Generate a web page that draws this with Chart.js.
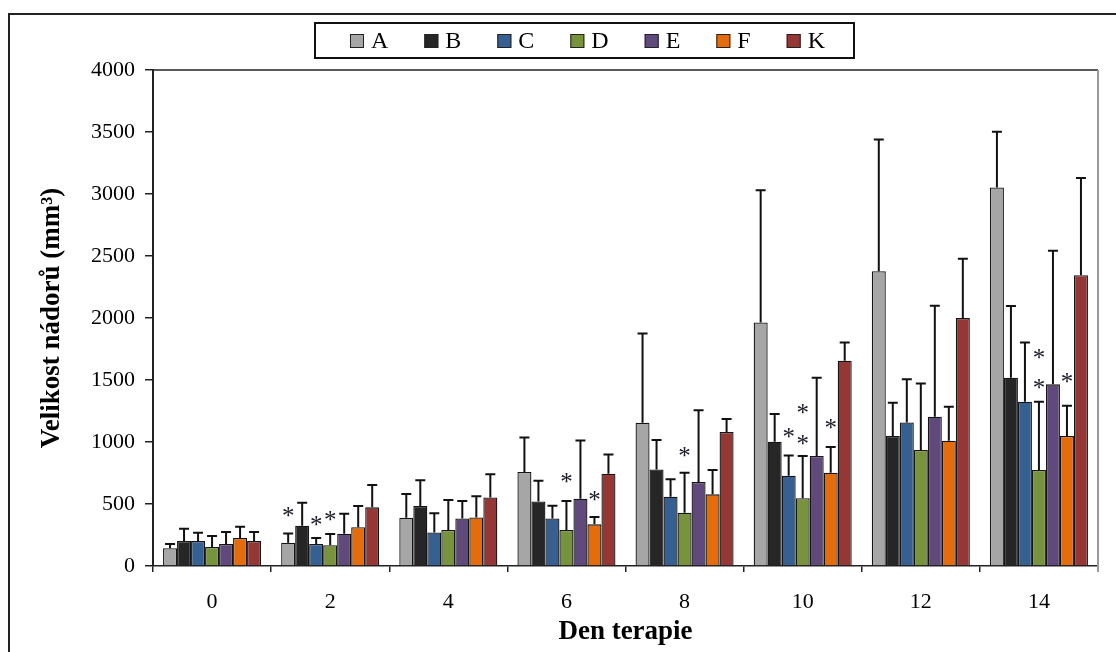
<!DOCTYPE html>
<html>
<head>
<meta charset="utf-8">
<title>Velikost nádorů</title>
<script src="https://cdn.jsdelivr.net/npm/chart.js"></script>
<style>
	html, body { margin: 0; padding: 0; background: #fff; }
	#wrap { position: relative; width: 1116px; height: 652px; }
</style>
</head>
<body>
<div id="wrap"><canvas id="tumor"></canvas></div>
<script>
const days = ['0', '2', '4', '6', '8', '10', '12', '14'];
const groupNames = ['A', 'B', 'C', 'D', 'E', 'F', 'K'];
const groupColors = ['#a6a6a6', '#262626', '#376092', '#77933c', '#604a7b', '#e46c0a', '#953735'];

// mean tumour volume per group (mm3)
const meanA = [143, 188, 390, 758, 1155, 1964, 2378, 3052];
const meanB = [201, 325, 484, 521, 779, 1002, 1048, 1518];
const meanC = [201, 177, 271, 384, 559, 728, 1158, 1325];
const meanD = [153, 167, 290, 290, 430, 546, 935, 774];
const meanE = [177, 261, 384, 543, 677, 887, 1204, 1465];
const meanF = [226, 312, 392, 336, 578, 752, 1010, 1048];
const meanK = [201, 473, 553, 744, 1080, 1655, 1999, 2345];

// standard deviations (upper error bar)
const sdA = [34, 75, 190, 279, 721, 1067, 1061, 450];
const sdB = [100, 185, 207, 167, 237, 223, 269, 578];
const sdC = [68, 49, 154, 102, 140, 164, 349, 478];
const sdD = [89, 91, 242, 234, 322, 341, 537, 551];
const sdE = [97, 161, 140, 470, 580, 631, 894, 1077];
const sdF = [91, 172, 170, 59, 196, 207, 274, 244];
const sdK = [73, 180, 186, 156, 105, 148, 478, 785];

// significance stars: day index, group index, height (mm3)
const starDay = [1, 1, 1, 3, 3, 4, 5, 5, 5, 5, 7, 7, 7];
const starGroup = [0, 2, 3, 3, 5, 3, 2, 3, 3, 5, 3, 3, 5];
const starAt = [427, 355, 395, 699, 551, 908, 1064, 1257, 1002, 1137, 1695, 1453, 1505];

const means = [meanA, meanB, meanC, meanD, meanE, meanF, meanK];
const sds = [sdA, sdB, sdC, sdD, sdE, sdF, sdK];

const serif = '"Liberation Serif", "Times New Roman", serif';

const errorBars = {
	id: 'errorBars',
	afterDatasetsDraw(chart) {
		const ctx = chart.ctx, y = chart.scales.y;
		ctx.save();
		ctx.strokeStyle = '#111';
		ctx.lineWidth = 2;
		chart.data.datasets.forEach((ds, i) => {
			chart.getDatasetMeta(i).data.forEach((bar, j) => {
				const top = y.getPixelForValue(ds.data[j] + ds.sd[j]);
				ctx.beginPath();
				ctx.moveTo(bar.x, bar.y);
				ctx.lineTo(bar.x, top);
				ctx.moveTo(bar.x - 5, top);
				ctx.lineTo(bar.x + 5, top);
				ctx.stroke();
			});
		});
		ctx.fillStyle = '#1b1b2a';
		ctx.font = '25px ' + serif;
		ctx.textAlign = 'center';
		ctx.textBaseline = 'middle';
		starDay.forEach((d, k) => {
			const bar = chart.getDatasetMeta(starGroup[k]).data[d];
			ctx.fillText('*', bar.x, y.getPixelForValue(starAt[k]) + 4);
		});
		ctx.restore();
	}
};

// outer frame, plot box edges and the boxed legend
const frame = {
	id: 'frame',
	afterDraw(chart) {
		const ctx = chart.ctx, a = chart.chartArea;
		ctx.save();
		ctx.strokeStyle = '#222';
		ctx.lineWidth = 2;
		ctx.beginPath();
		ctx.moveTo(9, 652); ctx.lineTo(9, 14); ctx.lineTo(1116, 14);
		ctx.stroke();

		ctx.lineWidth = 1.5;
		ctx.beginPath();
		ctx.moveTo(a.left, a.top); ctx.lineTo(a.right, a.top);
		ctx.stroke();
		ctx.strokeStyle = '#9a9a9a';
		ctx.lineWidth = 2;
		ctx.beginPath();
		ctx.moveTo(a.right, a.top); ctx.lineTo(a.right, a.bottom + 6);
		ctx.stroke();

		ctx.strokeStyle = '#111';
		ctx.lineWidth = 2;
		ctx.strokeRect(315, 23, 539, 35);
		ctx.font = '24px ' + serif;
		ctx.textBaseline = 'middle';
		let x = 350;
		chart.data.datasets.forEach(ds => {
			ctx.fillStyle = ds.backgroundColor;
			ctx.fillRect(x, 34, 14, 14);
			ctx.lineWidth = 1;
			ctx.strokeStyle = '#222';
			ctx.strokeRect(x + 0.5, 34.5, 13, 13);
			ctx.fillStyle = '#000';
			ctx.fillText(ds.label, x + 21, 42);
			x += 21 + ctx.measureText(ds.label).width + 36;
		});
		ctx.restore();
	}
};

new Chart(document.getElementById('tumor'), {
	type: 'bar',
	data: {
		labels: days,
		datasets: groupNames.map((name, i) => ({
			label: name,
			data: means[i],
			sd: sds[i],
			backgroundColor: groupColors[i]
		}))
	},
	options: {
		responsive: true,
		maintainAspectRatio: false,
		animation: false,
		layout: { padding: { top: 70, left: 9, right: 18, bottom: 0 } },
		datasets: { bar: { categoryPercentage: 0.83, barPercentage: 1, borderWidth: 1.3, borderColor: '#151515' } },
		plugins: { legend: { display: false }, tooltip: { enabled: false } },
		scales: {
			x: {
				grid: { offset: true, drawOnChartArea: false, tickLength: 6, color: '#222', lineWidth: 1.5 },
				border: { color: '#222', width: 1.5 },
				ticks: { color: '#000', font: { family: serif, size: 22 }, padding: 17 },
				title: { display: true, text: 'Den terapie', color: '#000', font: { family: serif, size: 27, weight: 'bold' }, padding: { top: 0, bottom: 4 } },
				afterFit(s) { s.height = 86; }
			},
			y: {
				min: 0,
				max: 4000,
				grid: { drawOnChartArea: false, tickLength: 8, color: '#222', lineWidth: 1.5 },
				border: { color: '#222', width: 2 },
				ticks: { stepSize: 500, color: '#000', font: { family: serif, size: 22 }, padding: 10, callback: v => String(v) },
				title: { display: true, text: 'Velikost nádorů (mm³)', color: '#000', font: { family: serif, size: 27, weight: 'bold' }, padding: { top: 27, bottom: 0 } },
				afterFit(s) { s.width = 144; }
			}
		}
	},
	plugins: [errorBars, frame]
});
</script>
</body>
</html>
